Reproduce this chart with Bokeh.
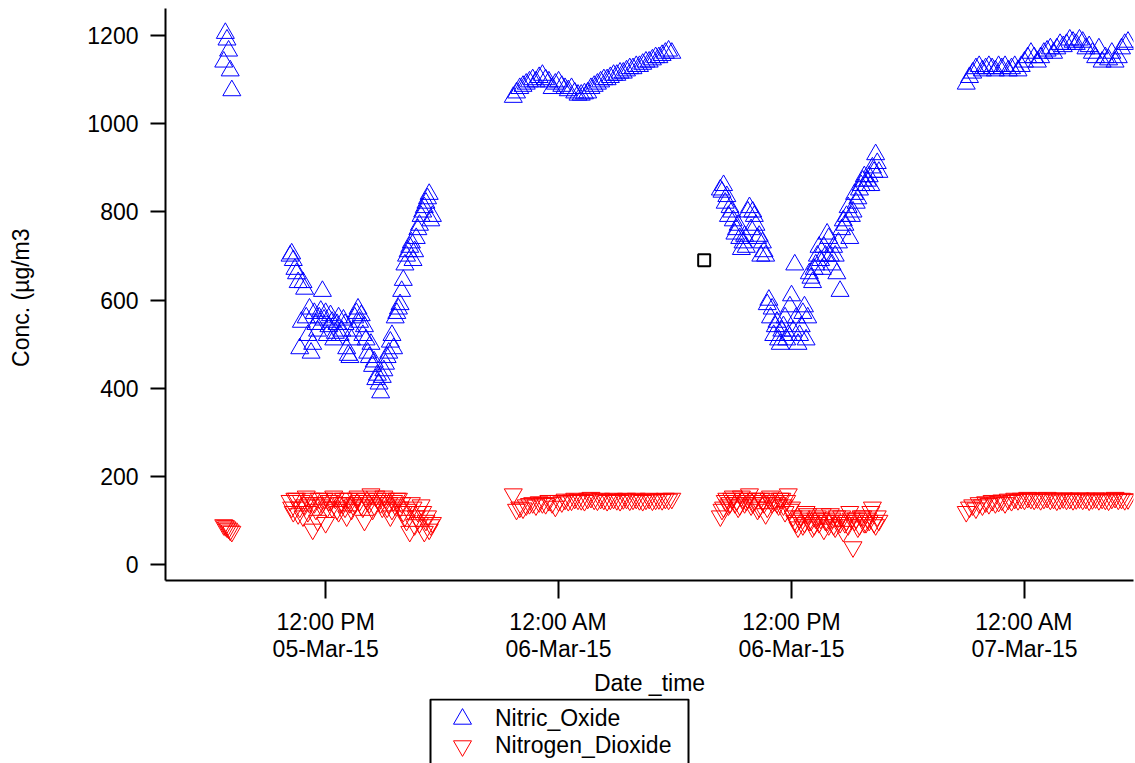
import pandas as pd
from bokeh.plotting import figure
from bokeh.layouts import column
from bokeh.models import (Range1d, FixedTicker, Legend, LegendItem,
                          ColumnDataSource, BoxAnnotation)
from bokeh.embed import file_html
from bokeh.resources import INLINE

# ---------------- data ----------------
# each group: start time, step (minutes), Nitric_Oxide values, Nitrogen_Dioxide values
g1_start, g1_step = "2015-03-05 06:45", 5
no_g1 = [1140, 1205, 1190, 1165, 1120, 1075]
no2_g1 = [90, 88, 85, 82, 78, 75]

g2_start, g2_step = "2015-03-05 10:10", 10
no_g2 = [700, 690, 660, 490, 640, 560, 580, 500, 545, 560,
         620, 570, 540, 550, 525, 560, 530, 545, 475, 510,
         560, 580, 565, 540, 480, 500, 460, 430, 390, 440,
         470, 505, 490, 570, 590, 645, 700, 720, 690, 740,
         770, 800, 820, 840, 790]
no2_g2 = [145, 120, 150, 130, 110, 155, 140, 80, 125, 150,
          140, 95, 145, 130, 150, 120, 140, 130, 150, 125,
          140, 155, 135, 100, 145, 160, 135, 150, 140, 155,
          130, 110, 145, 150, 130, 120, 100, 75, 130, 110,
          95, 120, 100, 80, 95]

g2b_start, g2b_step = "2015-03-05 10:15", 10
no_g2b = [705, 670, 640, 550, 625, 520, 480, 570, 530, 575,
          555, 520, 565, 510, 545, 520, 555, 490, 470, 530,
          570, 550, 520, 510, 470, 450, 420, 410, 425, 455,
          480, 520, 560, 580, 620, 680, 710, 730, 710, 760,
          790, 810, 830, 780]
no2_g2b = [130, 150, 115, 145, 135, 120, 150, 140, 100, 135,
           150, 130, 145, 155, 125, 140, 150, 110, 140, 135,
           150, 145, 130, 150, 140, 125, 155, 145, 130, 150,
           140, 125, 135, 150, 140, 110, 125, 140, 90, 120,
           135, 75, 110, 90]

g3_start, g3_step = "2015-03-05 21:40", 10
no_g3 = [1060, 1070, 1080, 1085, 1090, 1095, 1100, 1095, 1105, 1110,
         1100, 1095, 1080, 1090, 1095, 1085, 1080, 1075, 1080, 1070,
         1065, 1065, 1068, 1070, 1080, 1085, 1090, 1095, 1100, 1100,
         1105, 1110, 1110, 1115, 1115, 1120, 1125, 1125, 1130, 1130,
         1135, 1140, 1140, 1145, 1150, 1150, 1155, 1160, 1165, 1160]
no2_g3 = [160, 125, 130, 128, 135, 138, 140, 135, 142, 140,
          138, 145, 140, 132, 145, 142, 148, 145, 146, 150,
          148, 147, 145, 150, 152, 148, 146, 150, 148, 145,
          148, 150, 147, 145, 149, 150, 146, 148, 150, 147,
          145, 148, 150, 146, 148, 149, 147, 150, 148, 150]

g4_start, g4_step = "2015-03-06 08:20", 10
no_g4 = [850, 860, 835, 810, 780, 760, 740, 730, 720, 810,
         800, 770, 745, 730, 700, 600, 580, 540, 510, 530,
         560, 520, 610, 680, 500, 540, 585, 560, 650, 670,
         700, 690, 720, 750, 700, 720, 660, 620, 780, 790,
         740, 800, 820, 850, 870, 860, 880, 900, 930, 890]
no2_g4 = [110, 130, 150, 140, 155, 145, 135, 150, 145, 160,
          140, 150, 130, 145, 115, 150, 140, 145, 135, 150,
          120, 160, 130, 100, 85, 110, 95, 115, 100, 90,
          110, 105, 80, 100, 115, 90, 110, 95, 75, 100,
          120, 40, 105, 90, 110, 95, 100, 130, 90, 100]

g4b_start, g4b_step = "2015-03-06 08:25", 10
no_g4b = [845, 820, 790, 800, 750, 770, 715, 745, 800, 760,
          790, 740, 700, 710, 590, 560, 520, 550, 500, 540,
          510, 585, 530, 560, 520, 570, 510, 660, 640, 680,
          720, 670, 700, 740, 680, 700, 730, 760, 770, 810,
          790, 840, 830, 860, 880, 870, 860, 890, 910]
no2_g4b = [125, 145, 135, 150, 140, 130, 155, 140, 150, 135,
           145, 125, 150, 140, 130, 155, 145, 140, 150, 135,
           145, 125, 110, 95, 105, 90, 120, 100, 85, 105,
           95, 115, 100, 90, 105, 85, 100, 110, 95, 90,
           105, 100, 85, 110, 95, 105, 120, 95, 110]

g5_start, g5_step = "2015-03-06 21:00", 10
no_g5 = [1090, 1105, 1115, 1125, 1130, 1120, 1125, 1130, 1125, 1120,
         1130, 1125, 1130, 1120, 1125, 1130, 1120, 1130, 1140, 1150,
         1160, 1150, 1140, 1150, 1160, 1165, 1170, 1160, 1170, 1180,
         1175, 1180, 1190, 1185, 1180, 1190, 1185, 1170, 1175, 1160,
         1150, 1170, 1140, 1150, 1145, 1160, 1140, 1150, 1170, 1180,
         1185]
no2_g5 = [120, 130, 135, 128, 140, 135, 142, 138, 145, 140,
          143, 146, 140, 148, 145, 150, 147, 150, 148, 152,
          150, 148, 151, 147, 150, 152, 148, 150, 146, 149,
          151, 148, 150, 147, 149, 151, 148, 150, 146, 149,
          151, 147, 150, 148, 146, 150, 152, 148, 150, 147,
          149]

cursor_time = ["2015-03-06 07:30"]
cursor_value = [690]

x_tick_times = ["2015-03-05 12:00", "2015-03-06 00:00",
                "2015-03-06 12:00", "2015-03-07 00:00"]
x_tick_labels = ["12:00 PM\n05-Mar-15", "12:00 AM\n06-Mar-15",
                 "12:00 PM\n06-Mar-15", "12:00 AM\n07-Mar-15"]
y_ticks = [0, 200, 400, 600, 800, 1000, 1200]

# -------------- build series --------------
groups = [
    (g1_start, g1_step, no_g1, no2_g1),
    (g2_start, g2_step, no_g2, no2_g2),
    (g2b_start, g2b_step, no_g2b, no2_g2b),
    (g3_start, g3_step, no_g3, no2_g3),
    (g4_start, g4_step, no_g4, no2_g4),
    (g4b_start, g4b_step, no_g4b, no2_g4b),
    (g5_start, g5_step, no_g5, no2_g5),
]
t_all, no_all, no2_all = [], [], []
for start, step, a, b in groups:
    times = pd.date_range(start, periods=len(a), freq=f"{step}min")
    t_all += list(times)
    no_all += a
    no2_all += b
src = ColumnDataSource(dict(t=t_all, no=no_all, no2=no2_all))

FONT = "Liberation Sans"
FS = "23px"
NO_STYLE = dict(marker="triangle", size=18, fill_color=None, line_color="#0000FF", line_width=1)
NO2_STYLE = dict(marker="inverted_triangle", size=18, fill_color=None, line_color="#FF0000", line_width=1)

p = figure(width=1135, height=698, x_axis_type="datetime",
           output_backend="svg", toolbar_location=None,
           x_range=Range1d(pd.Timestamp("2015-03-05 03:45"), pd.Timestamp("2015-03-07 05:37")),
           y_range=Range1d(-36, 1261),
           min_border_left=165, min_border_right=2,
           min_border_top=8, min_border_bottom=116)
p.outline_line_color = None
p.grid.visible = False
p.background_fill_color = "white"
p.border_fill_color = "white"

p.scatter("t", "no", source=src, **NO_STYLE)
p.scatter("t", "no2", source=src, **NO2_STYLE)
p.scatter(pd.to_datetime(cursor_time), cursor_value, marker="square", size=12,
          fill_color=None, line_color="black", line_width=2)

tick_ms = [pd.Timestamp(t).value // 10**6 for t in x_tick_times]
p.xaxis.ticker = FixedTicker(ticks=tick_ms)
p.xaxis.major_label_overrides = {ms: lab for ms, lab in zip(tick_ms, x_tick_labels)}
p.yaxis.ticker = FixedTicker(ticks=y_ticks)

for ax in (p.xaxis, p.yaxis):
    ax.axis_line_width = 2
    ax.axis_line_color = "black"
    ax.major_tick_line_width = 2
    ax.major_tick_line_color = "black"
    ax.major_tick_in = 0
    ax.minor_tick_line_color = None
    ax.major_label_text_font = FONT
    ax.major_label_text_font_size = FS
    ax.major_label_text_color = "black"
    ax.axis_label_text_font = FONT
    ax.axis_label_text_font_size = FS
    ax.axis_label_text_font_style = "normal"
    ax.axis_label_text_color = "black"

p.xaxis.major_tick_out = 18
p.yaxis.major_tick_out = 15
p.xaxis.major_label_standoff = 10
p.xaxis.major_label_text_line_height = 1.05
p.yaxis.major_label_standoff = 12
p.xaxis.axis_label = "Date _time"
p.yaxis.axis_label = "Conc.  (µg/m3"
p.xaxis.axis_label_standoff = 5
p.yaxis.axis_label_standoff = 50

# ---- legend strip below the chart (same series, out-of-view ranges) ----
lg = figure(width=1135, height=65, output_backend="svg", toolbar_location=None,
            x_range=Range1d(0, 1), y_range=Range1d(-1e6, -1e6 + 1),
            x_axis_location=None, y_axis_location=None,
            min_border=0)
lg.outline_line_color = None
lg.grid.visible = False
lg.border_fill_color = "white"
lg.background_fill_color = "white"
l_no = lg.scatter("t", "no", source=src, **NO_STYLE)
l_no2 = lg.scatter("t", "no2", source=src, **NO2_STYLE)

# legend frame (its lower edge runs past the bottom of the page, as in the original)
lg.add_layout(BoxAnnotation(left=265, right=523, top=64, bottom=-20,
                            left_units="screen", right_units="screen",
                            top_units="screen", bottom_units="screen",
                            fill_color=None, fill_alpha=0,
                            line_color="black", line_width=2, line_alpha=1))

LEG = dict(orientation="vertical", glyph_width=64, glyph_height=45,
           spacing=0, padding=0, margin=0, label_standoff=1,
           label_text_font=FONT, label_text_font_size=FS,
           label_text_color="black",
           border_line_color=None, background_fill_alpha=0)
lg.add_layout(Legend(items=[LegendItem(label="Nitric_Oxide", renderers=[l_no])],
                     location=(265, 22), **LEG), "center")
lg.add_layout(Legend(items=[LegendItem(label="Nitrogen_Dioxide", renderers=[l_no2])],
                     location=(265, -5), **LEG), "center")

open("out.html", "w").write(file_html(column(p, lg, spacing=0), INLINE))
